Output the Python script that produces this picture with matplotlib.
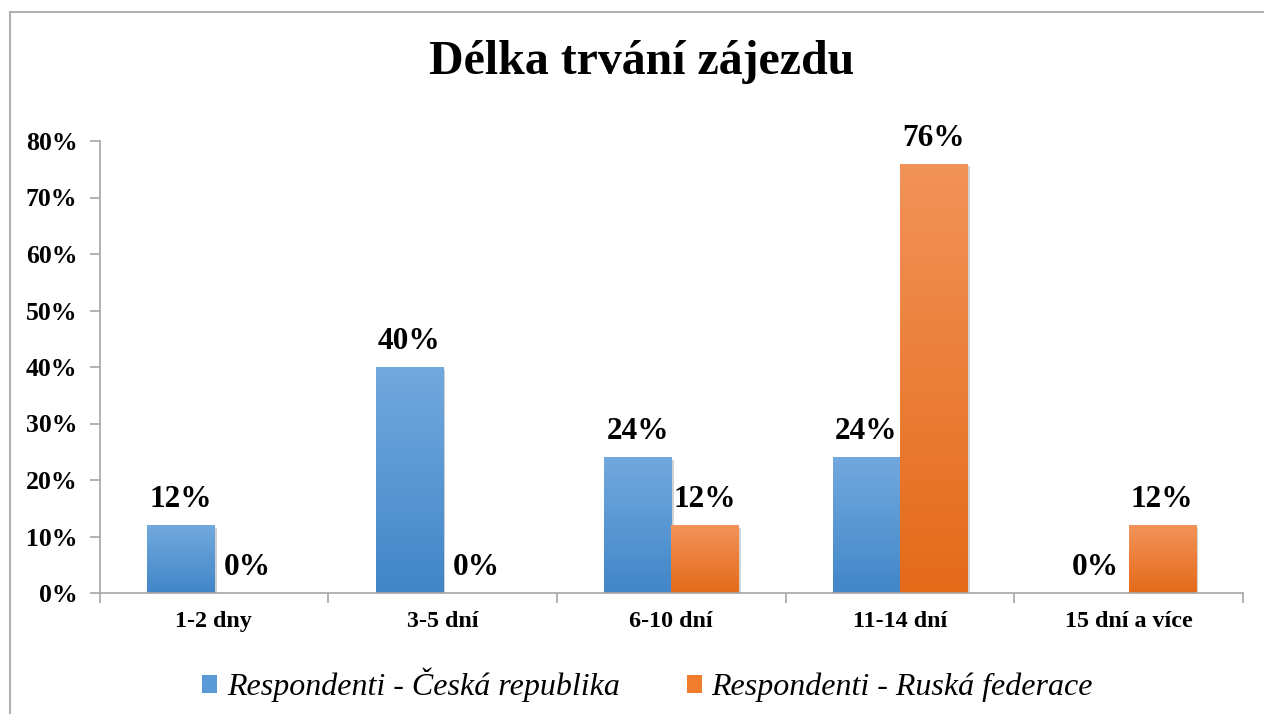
import numpy as np
import matplotlib
matplotlib.use("Agg")
import matplotlib.pyplot as plt
from matplotlib.colors import LinearSegmentedColormap
from matplotlib.lines import Line2D
from matplotlib.patches import Patch
import matplotlib.patheffects as pe

categories = ['1-2 dny', '3-5 dní', '6-10 dní', '11-14 dní', '15 dní a více']
cz_values = [12, 40, 24, 24, 0]
ru_values = [0, 0, 12, 76, 12]
series_names = ['Respondenti - Česká republika', 'Respondenti - Ruská federace']
title = 'Délka trvání zájezdu'
yticks = [0, 10, 20, 30, 40, 50, 60, 70, 80]

blue_top, blue_mid, blue_bot = '#72a9de', '#5a9ad8', '#4186c8'
orange_top, orange_mid, orange_bot = '#f29359', '#f07c2e', '#e46a19'

plt.rcParams['font.family'] = ['Liberation Serif', 'DejaVu Serif']

fig = plt.figure(figsize=(12.64, 7.14), dpi=100)
ax = fig.add_axes([99.5/1264, 1-593/714, (1243-99.5)/1264, (593-141)/714])

n = len(categories)
x = np.arange(n)
w = 0.293
b1 = ax.bar(x - w/2, cz_values, w, color=blue_mid, zorder=2)
b2 = ax.bar(x + w/2, ru_values, w, color=orange_mid, zorder=2)

shadow = [pe.SimplePatchShadow(offset=(2, -2), shadow_rgbFace='#808080', alpha=0.35), pe.Normal()]

def grad_bar(bar, top, bottom):
    bx, by = bar.get_xy()
    bw, bh = bar.get_width(), bar.get_height()
    if bh <= 0:
        bar.set_visible(False)
        return
    bar.set_path_effects(shadow)
    grad = np.linspace(0, 1, 256).reshape(-1, 1)
    cmap = LinearSegmentedColormap.from_list('g', [bottom, top])
    im = ax.imshow(grad, extent=[bx, bx + bw, by, by + bh], origin='lower',
                   cmap=cmap, aspect='auto', zorder=2.5)
    im.set_clip_path(bar)

for bar in b1:
    grad_bar(bar, blue_top, blue_bot)
for bar in b2:
    grad_bar(bar, orange_top, orange_bot)

ax.set_xlim(-0.5, n - 0.5)
ax.set_ylim(0, 80)

# labels
for xs, vals in ((x - w/2, cz_values), (x + w/2, ru_values)):
    for xi, v in zip(xs, vals):
        ax.annotate(f'{v}%', (xi, v), xytext=(0, 13), textcoords='offset points',
                    ha='center', va='baseline', fontsize=22.5, fontweight='bold',
                    zorder=5)

# axes styling
for s in ['top', 'right']:
    ax.spines[s].set_visible(False)
for s in ['left', 'bottom']:
    ax.spines[s].set_color('#a6a6a6')
    ax.spines[s].set_linewidth(1.2)

ax.set_yticks(yticks)
ax.set_yticklabels([f'{t}%' for t in yticks], fontsize=18.5, fontweight='bold')
ax.tick_params(axis='y', length=7, width=1.2, color='#a6a6a6', pad=9)

ax.set_xticks(np.arange(n + 1) - 0.5)
ax.set_xticklabels([])
ax.tick_params(axis='x', which='major', length=7, width=1.2, color='#a6a6a6')
ax.set_xticks(x, minor=True)
ax.set_xticklabels(categories, minor=True, fontsize=17.3, fontweight='bold')
ax.tick_params(axis='x', which='minor', length=0, pad=13)

fig.text(641.5/1264, 1-62/714, title, ha='center', va='center',
         fontsize=34.5, fontweight='bold')

handles = [Patch(facecolor=blue_mid, edgecolor='none'),
           Patch(facecolor=orange_mid, edgecolor='none')]
fig.legend(handles, series_names, loc='center', bbox_to_anchor=(647.5/1264, 1-685/714),
           ncol=2, frameon=False, prop={'style': 'italic', 'size': 23},
           handlelength=0.47, handleheight=0.47, handletextpad=0.31, columnspacing=2.1,
           borderpad=0, borderaxespad=0)

# outer border (left and top)
fig.add_artist(Line2D([10.5/1264, 10.5/1264], [0, 1-12/714], transform=fig.transFigure,
                      color='#b0b0b0', lw=1.5))
fig.add_artist(Line2D([10/1264, 1], [1-12/714, 1-12/714], transform=fig.transFigure,
                      color='#b0b0b0', lw=1.5))

fig.savefig('out.png', dpi=100)
